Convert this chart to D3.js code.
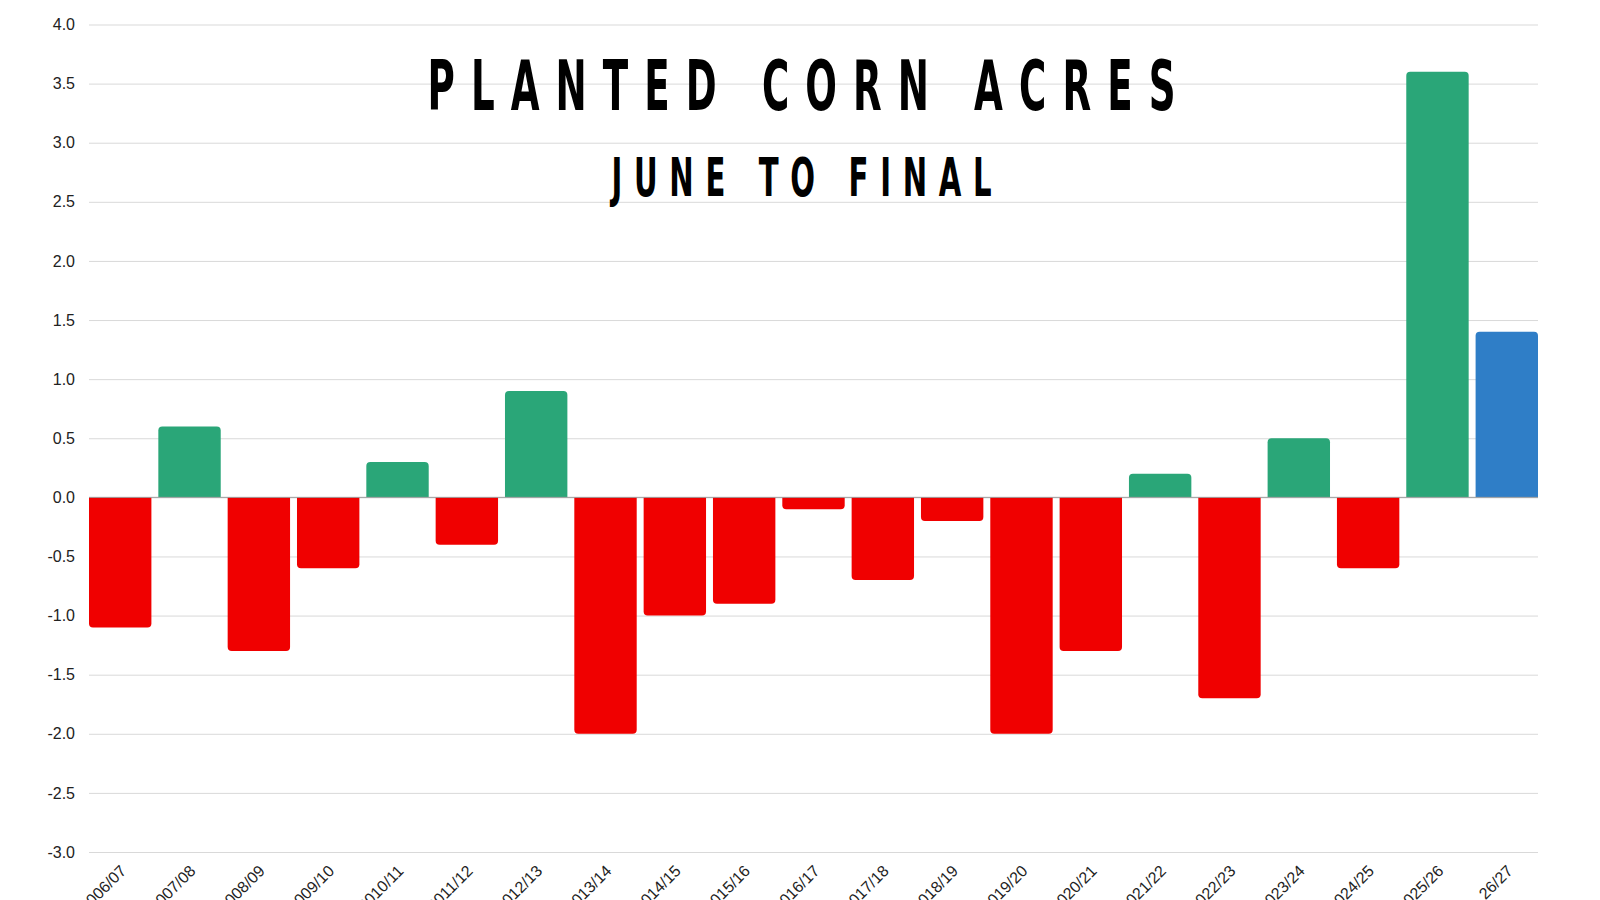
<!DOCTYPE html>
<html>
<head>
<meta charset="utf-8">
<script src="https://cdn.jsdelivr.net/npm/d3@7"></script>
<style>
  body { margin: 0; background: #fff; }
  svg { display: block; }
</style>
</head>
<body>
<div id="chart"></div>
<script>
// crop years and change in planted acres (June report to final), million acres
const seasons = ['2006/07', '2007/08', '2008/09', '2009/10', '2010/11', '2011/12', '2012/13',
  '2013/14', '2014/15', '2015/16', '2016/17', '2017/18', '2018/19', '2019/20', '2020/21',
  '2021/22', '2022/23', '2023/24', '2024/25', '2025/26', '26/27']
const changes = [-1.1, 0.6, -1.3, -0.6, 0.3, -0.4, 0.9, -2.0, -1.0, -0.9, -0.1, -0.7, -0.2,
  -2.0, -1.3, 0.2, -1.7, 0.5, -0.6, 3.6, 1.4]
const yTicks = [4.0, 3.5, 3.0, 2.5, 2.0, 1.5, 1.0, 0.5, 0.0, -0.5, -1.0, -1.5, -2.0, -2.5, -3.0]

const data = seasons.map((s, i) => ({ season: s, value: changes[i] }))

const [width, height] = [1600, 900]
const margin = { top: 24.5, right: 62, bottom: 48, left: 89 }

const svg = d3.select('#chart').append('svg')
  .attr('width', width)
  .attr('height', height)

const x = d3.scaleBand()
  .domain(seasons)
  .range([margin.left, width - margin.right])
  .paddingInner(0.1)
  .paddingOuter(0)

const y = d3.scaleLinear()
  .domain([-3, 4])
  .range([height - margin.bottom, margin.top])

// gridlines + y labels (plain hyphen for negatives)
const fmt = d => d3.format('.1f')(d).replace('\u2212', '-')
const yAxis = svg.append('g')
  .attr('transform', `translate(${margin.left},0)`)
  .call(d3.axisLeft(y)
    .tickValues(yTicks)
    .tickFormat(fmt)
    .tickSize(-(width - margin.left - margin.right))
    .tickPadding(14))
yAxis.select('.domain').remove()
yAxis.selectAll('line').attr('stroke', '#d9d9d9').attr('stroke-width', 1)
yAxis.selectAll('text')
  .attr('fill', '#222')
  .style('font-family', 'Liberation Sans, Arial, sans-serif')
  .style('font-size', '16px')

// bar shape with rounded corners only on the outer end
const r = 4
const barPath = d => {
  const x0 = x(d.season), x1 = x0 + x.bandwidth()
  const y0 = y(0), y1 = y(d.value)
  if (d.value >= 0) {
    return `M${x0},${y0}V${y1 + r}Q${x0},${y1} ${x0 + r},${y1}H${x1 - r}Q${x1},${y1} ${x1},${y1 + r}V${y0}Z`
  }
  return `M${x0},${y0}V${y1 - r}Q${x0},${y1} ${x0 + r},${y1}H${x1 - r}Q${x1},${y1} ${x1},${y1 - r}V${y0}Z`
}

svg.append('g')
  .selectAll('path')
  .data(data)
  .join('path')
  .attr('d', barPath)
  .attr('fill', (d, i) => i === data.length - 1 ? '#2f7ec7' : d.value >= 0 ? '#2aa678' : '#f00000')

// zero line
svg.append('line')
  .attr('x1', margin.left)
  .attr('x2', width - margin.right)
  .attr('y1', y(0))
  .attr('y2', y(0))
  .attr('stroke', '#9e9e9e')
  .attr('stroke-width', 1)

// x labels, rotated (cut by the bottom edge as in the original)
svg.append('g')
  .selectAll('text')
  .data(seasons)
  .join('text')
  .attr('transform', d => `translate(${x(d) + x.bandwidth() / 2 + 7},${height - margin.bottom + 20}) rotate(-45)`)
  .attr('text-anchor', 'end')
  .attr('fill', '#222')
  .style('font-family', 'Liberation Sans, Arial, sans-serif')
  .style('font-size', '16px')
  .text(d => d)

// titles: condensed, widely tracked capitals
const cx = (margin.left + width - margin.right) / 2 - 12
const squeeze = 0.54
const spacedTitle = (txt, baseline, size, target) => {
  const g = svg.append('g')
    .attr('transform', `translate(${cx},${baseline}) scale(${squeeze},1)`)
  const t = g.append('text')
    .attr('text-anchor', 'start')
    .attr('fill', '#000')
    .style('font-family', '"DejaVu Sans", sans-serif')
    .style('font-weight', 'bold')
    .style('font-size', size + 'px')
    .text(txt)
  const w = t.node().getComputedTextLength()
  const full = target / squeeze
  const ls = (full - w) / (txt.length - 1)
  t.attr('letter-spacing', ls).attr('x', -full / 2)
}

spacedTitle('PLANTED CORN ACRES', 110, 69, 748)
spacedTitle('JUNE TO FINAL', 196, 54, 380)
</script>
</body>
</html>
